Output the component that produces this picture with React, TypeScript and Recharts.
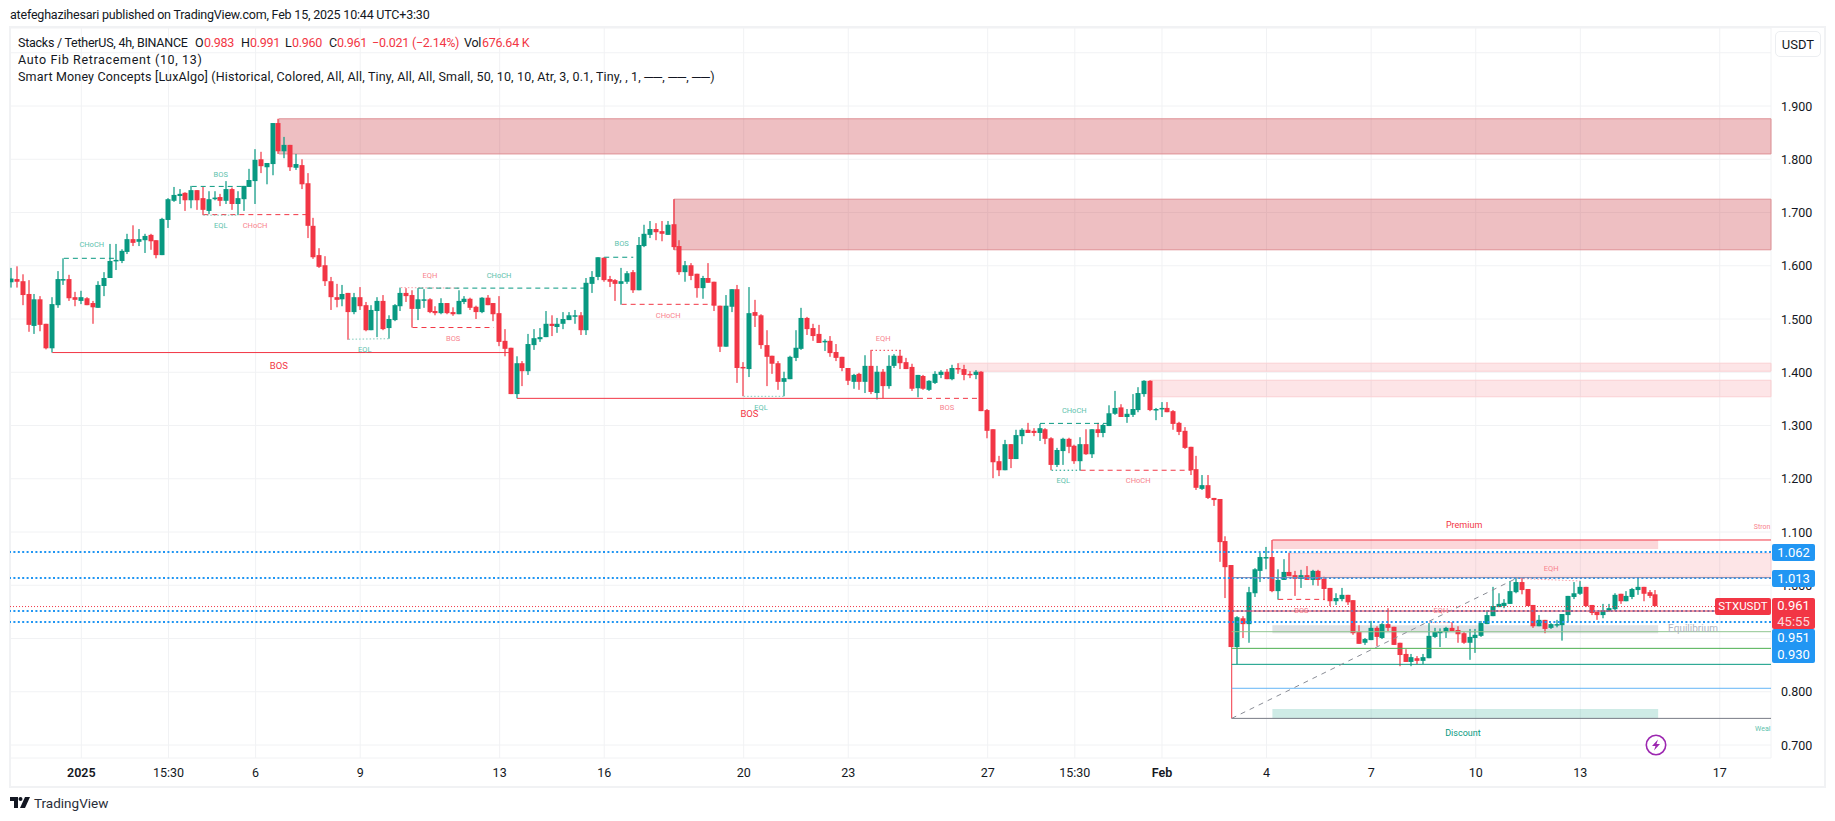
import React from 'react';
import { ComposedChart, Bar, XAxis, YAxis, CartesianGrid, ReferenceArea, ReferenceLine, ReferenceDot } from 'recharts';

const GREEN = '#089981';
const RED = '#F23645';
const BLUE = '#2196F3';

const opens = [
  1.569,1.575,1.571,1.547,1.487,1.537,1.491,1.445,1.526,1.573,
  1.575,1.541,1.534,1.539,1.530,1.521,1.562,1.577,1.609,1.609,
  1.626,1.650,1.645,1.648,1.658,1.648,1.620,1.686,1.722,1.731,
  1.737,1.723,1.742,1.727,1.703,1.725,1.729,1.722,1.744,1.716,
  1.725,1.748,1.759,1.800,1.785,1.791,1.868,1.815,1.827,1.784,
  1.789,1.755,1.675,1.620,1.601,1.571,1.541,1.537,1.549,1.513,
  1.541,1.526,1.479,1.515,1.534,1.483,1.498,1.524,1.549,1.545,
  1.519,1.536,1.537,1.515,1.511,1.530,1.513,1.509,1.532,1.538,
  1.523,1.513,1.540,1.530,1.511,1.459,1.446,1.359,1.417,1.402,
  1.451,1.462,1.466,1.491,1.485,1.491,1.498,1.506,1.507,1.479,
  1.566,1.579,1.615,1.575,1.573,1.566,1.570,1.588,1.554,1.637,
  1.658,1.669,1.665,1.658,1.678,1.637,1.588,1.601,1.585,1.558,
  1.577,1.570,1.525,1.448,1.523,1.556,1.410,1.406,1.513,1.507,
  1.451,1.431,1.417,1.382,1.387,1.427,1.444,1.502,1.483,1.472,
  1.457,1.459,1.438,1.429,1.408,1.382,1.397,1.382,1.412,1.361,
  1.401,1.374,1.412,1.431,1.419,1.410,1.370,1.393,1.367,1.380,
  1.395,1.401,1.387,1.408,1.406,1.397,1.395,1.401,1.329,1.293,
  1.233,1.216,1.265,1.237,1.280,1.292,1.290,1.286,1.293,1.276,
  1.226,1.252,1.275,1.262,1.233,1.265,1.246,1.293,1.286,1.299,
  1.322,1.334,1.316,1.320,1.329,1.359,1.384,1.329,1.331,1.333,
  1.327,1.305,1.290,1.260,1.218,1.181,1.188,1.164,1.162,1.083,
  1.038,0.884,0.938,0.927,0.985,1.027,1.051,1.053,0.989,1.010,
  1.025,1.019,1.012,1.019,1.010,1.027,1.012,0.995,0.970,0.974,
  0.982,0.972,0.912,0.892,0.897,0.920,0.901,0.927,0.922,0.892,
  0.871,0.856,0.863,0.858,0.863,0.903,0.910,0.912,0.920,0.916,
  0.910,0.892,0.901,0.905,0.927,0.942,0.959,0.961,0.965,0.987,
  1.006,0.993,0.963,0.923,0.935,0.920,0.925,0.925,0.944,0.978,
  0.984,0.997,0.963,0.950,0.944,0.952,0.955,0.984,0.970,0.978,
  0.991,0.997,0.987,0.983,
];

const highs = [
  1.596,1.599,1.584,1.573,1.547,1.543,1.491,1.541,1.590,1.614,
  1.583,1.551,1.553,1.541,1.534,1.571,1.588,1.641,1.641,1.631,
  1.660,1.676,1.669,1.660,1.660,1.648,1.690,1.727,1.748,1.744,
  1.738,1.750,1.742,1.748,1.740,1.740,1.735,1.759,1.747,1.740,
  1.750,1.782,1.819,1.814,1.793,1.868,1.876,1.842,1.827,1.810,
  1.800,1.774,1.690,1.633,1.618,1.579,1.566,1.564,1.549,1.549,
  1.560,1.532,1.526,1.541,1.545,1.507,1.528,1.559,1.558,1.554,
  1.558,1.556,1.539,1.524,1.539,1.530,1.522,1.554,1.543,1.540,
  1.525,1.541,1.545,1.530,1.543,1.481,1.446,1.430,1.421,1.472,
  1.481,1.483,1.515,1.507,1.502,1.513,1.513,1.517,1.513,1.577,
  1.590,1.616,1.616,1.581,1.575,1.596,1.590,1.592,1.654,1.677,
  1.684,1.680,1.684,1.684,1.725,1.648,1.609,1.605,1.585,1.581,
  1.605,1.570,1.525,1.545,1.556,1.564,1.419,1.560,1.536,1.509,
  1.479,1.431,1.421,1.401,1.431,1.479,1.521,1.504,1.491,1.489,
  1.462,1.468,1.453,1.429,1.408,1.397,1.399,1.432,1.442,1.412,
  1.406,1.432,1.434,1.442,1.427,1.416,1.395,1.395,1.385,1.402,
  1.404,1.406,1.414,1.417,1.414,1.402,1.404,1.402,1.331,1.293,
  1.243,1.273,1.265,1.292,1.295,1.305,1.295,1.303,1.295,1.278,
  1.258,1.277,1.277,1.264,1.278,1.293,1.293,1.305,1.303,1.338,
  1.365,1.340,1.331,1.359,1.372,1.385,1.385,1.333,1.344,1.344,
  1.329,1.307,1.297,1.260,1.243,1.207,1.207,1.164,1.162,1.092,
  1.038,0.942,0.942,0.997,1.032,1.061,1.072,1.085,1.030,1.049,
  1.061,1.027,1.029,1.036,1.029,1.029,1.016,0.995,0.985,0.995,
  0.982,0.972,0.925,0.901,0.933,0.923,0.929,0.957,0.922,0.892,
  0.880,0.871,0.867,0.871,0.929,0.920,0.919,0.922,0.931,0.923,
  0.912,0.918,0.918,0.933,0.953,0.997,0.985,0.974,1.008,1.015,
  1.014,0.993,0.963,0.944,0.935,0.929,0.935,0.946,0.980,1.006,
  1.008,0.997,0.963,0.950,0.965,0.965,0.985,0.984,0.989,0.995,
  1.015,0.997,0.991,0.991,
];

const lows = [
  1.559,1.559,1.526,1.476,1.472,1.477,1.443,1.437,1.521,1.564,
  1.534,1.524,1.528,1.526,1.491,1.521,1.543,1.577,1.592,1.605,
  1.622,1.637,1.637,1.624,1.630,1.614,1.620,1.671,1.720,1.716,
  1.703,1.708,1.705,1.695,1.697,1.723,1.712,1.716,1.705,1.695,
  1.703,1.748,1.716,1.774,1.753,1.770,1.810,1.802,1.778,1.780,
  1.744,1.652,1.613,1.596,1.562,1.517,1.522,1.524,1.461,1.509,
  1.517,1.477,1.479,1.466,1.479,1.463,1.496,1.515,1.532,1.484,
  1.498,1.521,1.511,1.507,1.509,1.509,1.506,1.509,1.528,1.517,
  1.500,1.511,1.526,1.496,1.449,1.430,1.359,1.351,1.374,1.395,
  1.442,1.457,1.466,1.468,1.474,1.481,1.498,1.491,1.470,1.470,
  1.549,1.573,1.570,1.560,1.534,1.527,1.566,1.549,1.554,1.635,
  1.652,1.648,1.646,1.658,1.630,1.583,1.570,1.573,1.540,1.538,
  1.568,1.515,1.438,1.448,1.513,1.380,1.355,1.391,1.485,1.444,
  1.374,1.397,1.367,1.355,1.387,1.421,1.442,1.470,1.459,1.455,
  1.440,1.429,1.421,1.402,1.376,1.369,1.367,1.361,1.359,1.349,
  1.351,1.369,1.408,1.406,1.406,1.365,1.353,1.367,1.365,1.378,
  1.389,1.387,1.385,1.397,1.385,1.389,1.387,1.327,1.276,1.201,
  1.205,1.216,1.220,1.237,1.265,1.286,1.280,1.271,1.265,1.216,
  1.222,1.226,1.248,1.228,1.216,1.245,1.239,1.278,1.278,1.299,
  1.320,1.316,1.305,1.316,1.325,1.354,1.327,1.310,1.316,1.325,
  1.292,1.282,1.256,1.207,1.179,1.179,1.162,1.149,1.044,0.976,
  0.884,0.852,0.901,0.892,0.978,1.006,1.030,0.987,0.973,1.010,
  1.017,0.980,0.995,1.010,1.000,0.999,0.972,0.961,0.963,0.970,
  0.963,0.907,0.890,0.888,0.897,0.886,0.899,0.914,0.888,0.848,
  0.856,0.848,0.852,0.852,0.863,0.901,0.884,0.901,0.914,0.892,
  0.890,0.860,0.873,0.903,0.927,0.942,0.959,0.957,0.965,0.985,
  0.983,0.961,0.920,0.923,0.910,0.918,0.921,0.896,0.931,0.974,
  0.982,0.959,0.944,0.935,0.938,0.950,0.952,0.965,0.970,0.974,
  0.982,0.970,0.976,0.960,
];

const closes = [
  1.576,1.570,1.545,1.489,1.537,1.489,1.445,1.528,1.575,1.575,
  1.539,1.536,1.541,1.526,1.522,1.564,1.577,1.609,1.611,1.628,
  1.650,1.643,1.650,1.656,1.646,1.620,1.688,1.725,1.733,1.735,
  1.723,1.742,1.723,1.705,1.725,1.728,1.722,1.744,1.716,1.727,
  1.750,1.761,1.799,1.787,1.793,1.868,1.815,1.827,1.785,1.791,
  1.753,1.675,1.616,1.598,1.571,1.541,1.536,1.547,1.513,1.541,
  1.524,1.479,1.517,1.534,1.481,1.500,1.526,1.549,1.543,1.519,
  1.537,1.537,1.513,1.511,1.530,1.511,1.509,1.534,1.538,1.521,
  1.513,1.540,1.526,1.509,1.457,1.444,1.359,1.417,1.402,1.453,
  1.464,1.466,1.491,1.487,1.491,1.500,1.507,1.507,1.479,1.568,
  1.579,1.616,1.573,1.570,1.566,1.571,1.586,1.554,1.639,1.660,
  1.669,1.663,1.660,1.677,1.635,1.588,1.601,1.581,1.558,1.577,
  1.568,1.525,1.448,1.525,1.556,1.408,1.408,1.511,1.506,1.451,
  1.429,1.416,1.382,1.389,1.429,1.446,1.502,1.481,1.468,1.455,
  1.459,1.436,1.427,1.408,1.384,1.395,1.382,1.412,1.363,1.401,
  1.374,1.412,1.431,1.417,1.406,1.369,1.395,1.369,1.384,1.397,
  1.401,1.387,1.408,1.406,1.395,1.395,1.401,1.327,1.290,1.231,
  1.216,1.265,1.237,1.282,1.292,1.286,1.286,1.295,1.275,1.226,
  1.254,1.275,1.260,1.233,1.265,1.246,1.293,1.286,1.301,1.323,
  1.333,1.316,1.322,1.331,1.361,1.384,1.329,1.331,1.333,1.325,
  1.303,1.288,1.258,1.216,1.183,1.188,1.164,1.160,1.081,1.034,
  0.884,0.940,0.927,0.987,1.030,1.053,1.053,0.989,1.010,1.025,
  1.017,1.012,1.019,1.010,1.027,1.010,0.993,0.970,0.976,0.982,
  0.968,0.910,0.890,0.899,0.920,0.903,0.927,0.920,0.888,0.869,
  0.856,0.865,0.858,0.865,0.905,0.912,0.914,0.920,0.914,0.908,
  0.892,0.903,0.907,0.929,0.944,0.961,0.965,0.967,0.989,1.006,
  0.991,0.961,0.923,0.935,0.918,0.927,0.927,0.946,0.980,0.985,
  0.997,0.961,0.948,0.944,0.953,0.957,0.982,0.970,0.980,0.993,
  0.997,0.984,0.980,0.961,
];

// bar index / label pairs of the time axis
const timeTicks = [12, 27, 42, 60, 84, 102, 126, 144, 168, 183, 198, 216, 234, 252, 270, 294];
const timeLabels = ['2025', '15:30', '6', '9', '13', '16', '20', '23', '27', '15:30', 'Feb', '4', '7', '10', '13', '17'];
const priceTicks = [2.0, 1.9, 1.8, 1.7, 1.6, 1.5, 1.4, 1.3, 1.2, 1.1, 1.0, 0.9, 0.8, 0.7];

const LAST = 302.82;

// order blocks and fib zones: [from bar, to bar, top, bottom, fill, opacity, stroke]
const zones: [number, number, number, number, string, number, string][] = [
  [46, LAST, 1.876, 1.81, '#c62a34', 0.3, '#de9095'],
  [114, LAST, 1.725, 1.63, '#c62a34', 0.3, '#de9095'],
  [163, LAST, 1.417, 1.402, '#f23645', 0.13, '#fad0d3'],
  [196, LAST, 1.385, 1.354, '#f23645', 0.13, '#fad0d3'],
  [220, LAST, 1.06, 1.017, '#f23645', 0.13, '#fad0d3'],
  [217, 283.4, 1.085, 1.068, '#f23645', 0.2, 'none'],
  [217, 283.4, 0.925, 0.91, '#787b86', 0.22, 'none'],
  [217, 283.4, 0.7676, 0.75, '#089981', 0.2, 'none'],
];

// structure and fib lines: [x1, p1, x2, p2, colour, width, dash]
const segments: [number, number, number, number, string, number, string][] = [
  [7, 1.437, 86, 1.437, RED, 1, ''],
  [87, 1.351, 156, 1.351, RED, 1, ''],
  [156, 1.351, 167, 1.351, RED, 1, '5 4'],
  [9, 1.614, 18, 1.614, GREEN, 1, '5 4'],
  [31, 1.749, 40, 1.749, GREEN, 1, '5 4'],
  [33, 1.696, 51, 1.696, RED, 1, '5 4'],
  [33, 1.695, 39, 1.695, '#7fcbbb', 1, '1.5 2'],
  [58, 1.462, 65, 1.463, '#7fcbbb', 1, '1.5 2'],
  [67, 1.559, 77, 1.558, '#f9a0a8', 1, '1.5 2'],
  [70, 1.558, 99, 1.558, GREEN, 1, '5 4'],
  [69, 1.484, 83, 1.484, RED, 1, '5 4'],
  [102, 1.616, 107, 1.616, GREEN, 1, '5 4'],
  [105, 1.5276, 121, 1.5276, RED, 1, '5 4'],
  [126, 1.3548, 133, 1.3548, '#7fcbbb', 1, '1.5 2'],
  [148, 1.4412, 153, 1.4412, RED, 1, '1.5 2.5'],
  [177, 1.304, 189, 1.304, GREEN, 1, '5 4'],
  [179, 1.216, 184, 1.216, GREEN, 1, '1.5 2.5'],
  [184, 1.216, 203, 1.216, RED, 1, '5 4'],
  [218, 0.9735, 226, 0.9735, RED, 1, '5 4'],
  [244, 0.93, 248, 0.93, '#f9a0a8', 1, '1.5 2'],
  [259, 1.013, 270, 1.008, '#f9a0a8', 1, '1.5 2'],
  [210, 0.884, 210, 0.75, RED, 1, ''],
  [217, 1.085, LAST, 1.085, RED, 1, ''],
  [210, 1.0143, LAST, 1.0143, '#7a86b0', 1, ''],
  [210, 0.9516, LAST, 0.9516, RED, 1, ''],
  [210, 0.9128, LAST, 0.9128, '#8fc58f', 1, ''],
  [210, 0.8815, LAST, 0.8815, '#4caf50', 1, ''],
  [210, 0.8515, LAST, 0.8515, GREEN, 1, ''],
  [210, 0.8065, LAST, 0.8065, '#64b5f6', 1, ''],
  [210, 0.75, LAST, 0.75, '#787b86', 1, ''],
  [210, 0.75, 259, 1.013, '#8a8d96', 1, '5 5'],
  [-0.27, 0.96, LAST, 0.96, RED, 1, '1 2'],
];

const alertPrices = [1.0624, 1.0136, 0.9516, 0.931];

// indicator labels: [text, bar, price, colour, font size]
const labels: [string, number, number, string, number][] = [
  ['CHoCH', 13.8, 1.639, '#5cc2ad', 7.5],
  ['BOS', 36, 1.772, '#5cc2ad', 7.5],
  ['EQL', 36, 1.675, '#5cc2ad', 7.5],
  ['CHoCH', 41.9, 1.675, '#f8838d', 7.5],
  ['BOS', 46, 1.412, RED, 9.5],
  ['EQL', 60.8, 1.442, '#5cc2ad', 7.5],
  ['EQH', 72, 1.581, '#f8838d', 7.5],
  ['CHoCH', 83.9, 1.581, '#5cc2ad', 7.5],
  ['BOS', 76, 1.464, '#f8838d', 7.5],
  ['BOS', 105, 1.641, '#5cc2ad', 7.5],
  ['CHoCH', 113, 1.507, '#f8838d', 7.5],
  ['EQH', 150, 1.464, '#f8838d', 7.5],
  ['EQL', 129, 1.333, '#5cc2ad', 7.5],
  ['BOS', 127, 1.323, RED, 9.5],
  ['BOS', 161, 1.333, '#f8838d', 7.5],
  ['CHoCH', 182.9, 1.329, '#5cc2ad', 7.5],
  ['EQL', 181, 1.196, '#5cc2ad', 7.5],
  ['CHoCH', 193.9, 1.196, '#f8838d', 7.5],
  ['Premium', 250, 1.113, RED, 9],
  ['Stron', 301.3, 1.109, '#f8838d', 7],
  ['BOS', 222, 0.952, '#f8838d', 7.5],
  ['EQH', 246, 0.952, '#f8838d', 7.5],
  ['EQH', 265, 1.032, '#f8838d', 7.5],
  ['Equilibrium', 289.4, 0.918, '#b2b5be', 10],
  ['Discount', 249.8, 0.7225, GREEN, 9],
  ['Weal', 301.4, 0.73, '#5cc2ad', 7],
];

// first legend row: [left px, text, is value]
const legendRow: [number, string, boolean][] = [
  [18, 'Stacks / TetherUS, 4h, BINANCE', false],
  [195, 'O', false],
  [204, '0.983', true],
  [241, 'H', false],
  [250, '0.991', true],
  [285, 'L', false],
  [292, '0.960', true],
  [329, 'C', false],
  [337, '0.961', true],
  [372, '−0.021 (−2.14%)', true],
  [464, 'Vol', false],
  [482, '676.64 K', true],
];

const chartData = opens.map((open, i) => ({
  i,
  open,
  high: highs[i],
  low: lows[i],
  close: closes[i],
  range: [lows[i], highs[i]],
}));

const Candle = (props: any) => {
  const { x, y, width, height, payload } = props;
  const { open, high, low, close } = payload;
  const up = close >= open;
  const color = up ? GREEN : RED;
  const perUnit = height / (high - low);
  const bodyTop = y + (high - Math.max(open, close)) * perUnit;
  const bodyH = Math.max(Math.abs(open - close) * perUnit, 1.5);
  const cx = Math.round(x + width / 2);
  return (
    <g>
      <rect x={cx - 0.6} y={y} width={1.2} height={height} fill={color} />
      <rect x={cx - 2.5} y={bodyTop} width={5} height={bodyH} fill={color} />
    </g>
  );
};

const PriceTick = ({ y, payload }: any) =>
  payload.value === 2 ? null : (
    <text x={1781} y={y} dominantBaseline="central" fontSize={12.5} fill="#131722" fontFamily="Roboto">
      {payload.value.toFixed(3)}
    </text>
  );

const TimeTick = ({ x, payload }: any) => {
  const label = timeLabels[timeTicks.indexOf(payload.value)];
  const bold = label === '2025' || label === 'Feb';
  return (
    <text x={x} y={772} textAnchor="middle" dominantBaseline="central" fontSize={12.5} fontWeight={bold ? 600 : 400} fill="#131722" fontFamily="Roboto">
      {label}
    </text>
  );
};

const tag = (top: number, height: number, bg: string, left = 1772, width = 43): React.CSSProperties => ({
  position: 'absolute',
  left,
  top,
  width,
  height,
  background: bg,
  color: '#fff',
  borderRadius: 2,
  textAlign: 'center',
  fontSize: 13,
  lineHeight: `${height}px`,
});

export default function App() {
  return (
    <div style={{ position: 'absolute', left: 0, top: 0, width: 1835, height: 821, background: '#fff', overflow: 'hidden', fontFamily: 'Roboto', color: '#131722' }}>
      <div style={{ position: 'absolute', left: 9, top: 26, width: 1813, height: 758, border: '2px solid #f1f2f4' }} />
      <div style={{ position: 'absolute', left: 10, top: 7, fontSize: 12.5, letterSpacing: -0.2, lineHeight: '16px', whiteSpace: 'nowrap' }}>
        atefeghazihesari published on TradingView.com, Feb 15, 2025 10:44 UTC+3:30
      </div>

      <div style={{ position: 'absolute', left: 0, top: 0 }}>
        <ComposedChart width={1835} height={821} data={chartData} margin={{ top: 28, right: 0, left: 10, bottom: 35 }}>
          <CartesianGrid stroke="#f1f2f4" />
          <XAxis
            dataKey="i"
            type="number"
            domain={[-0.275, LAST]}
            allowDataOverflow
            ticks={timeTicks}
            interval={0}
            height={28}
            axisLine={false}
            tickLine={false}
            tick={<TimeTick />}
          />
          <YAxis
            orientation="right"
            domain={[0.6756, 2.0465]}
            allowDataOverflow
            ticks={priceTicks}
            interval={0}
            width={64}
            axisLine={false}
            tickLine={false}
            tick={<PriceTick />}
          />
          {zones.map(([x1, x2, y1, y2, fill, op, stroke], k) => (
            <ReferenceArea key={`z${k}`} x1={x1} x2={x2} y1={y1} y2={y2} fill={fill} fillOpacity={op} stroke={stroke} />
          ))}
          {alertPrices.map((p) => (
            <ReferenceLine key={`a${p}`} y={p} stroke={BLUE} strokeWidth={2} strokeDasharray="2 2.4" />
          ))}
          {segments.map(([x1, p1, x2, p2, color, w, dash], k) => (
            <ReferenceLine
              key={`s${k}`}
              segment={[{ x: x1, y: p1 }, { x: x2, y: p2 }]}
              stroke={color}
              strokeWidth={w}
              strokeDasharray={dash || undefined}
            />
          ))}
          <Bar dataKey="range" barSize={5} isAnimationActive={false} shape={<Candle />} />
          {labels.map(([text, i, p, color, size], k) => (
            <ReferenceDot
              key={`l${k}`}
              x={i}
              y={p}
              r={0}
              shape={(d: any) => (
                <text x={d.cx} y={d.cy} textAnchor="middle" dominantBaseline="central" fontSize={size} fill={color} fontFamily="Roboto">
                  {text}
                </text>
              )}
            />
          ))}
        </ComposedChart>
      </div>

      <div style={{ position: 'absolute', left: 0, top: 34, width: 700, height: 17, fontSize: 12.5, lineHeight: '17px', whiteSpace: 'nowrap' }}>
        {legendRow.map(([left, text, isValue]) => (
          <span key={left} style={{ position: 'absolute', left, letterSpacing: -0.25, color: isValue ? RED : '#131722' }}>{text}</span>
        ))}
      </div>
      <div style={{ position: 'absolute', left: 18, top: 51, fontSize: 12.5, letterSpacing: 0.65, lineHeight: '17px', whiteSpace: 'nowrap' }}>
        Auto Fib Retracement (10, 13)
      </div>
      <div style={{ position: 'absolute', left: 18, top: 68, fontSize: 12.5, letterSpacing: 0.17, lineHeight: '17px', whiteSpace: 'nowrap' }}>
        Smart Money Concepts [LuxAlgo] (Historical, Colored, All, All, Tiny, All, All, Small, 50, 10, 10, Atr, 3, 0.1, Tiny, , 1, ──, ──, ──)
      </div>

      <div style={{ position: 'absolute', left: 1775, top: 31, width: 44, height: 24, border: '1px solid #eceef1', borderRadius: 5, textAlign: 'center', fontSize: 13, lineHeight: '25px' }}>USDT</div>

      <div style={tag(544, 17, BLUE)}>1.062</div>
      <div style={tag(570, 17, BLUE)}>1.013</div>
      <div style={{ ...tag(629, 34, BLUE), lineHeight: '17px' }}>0.951<br />0.930</div>
      <div style={{ ...tag(598, 31, RED), lineHeight: '15.5px' }}>0.961<br /><span style={{ opacity: 0.8 }}>45:55</span></div>
      <div style={{ ...tag(598, 17, RED, 1715, 56), fontSize: 11.5 }}>STXUSDT</div>

      <svg style={{ position: 'absolute', left: 1644, top: 733 }} width={24} height={24}>
        <circle cx={12} cy={12} r={9.7} fill="#fff" stroke="#9c27b0" strokeWidth={1.6} />
        <path d="M14 6.5 L8 13 H11.5 L10 17.5 L16 11 H12.5 Z" fill="#9c27b0" />
      </svg>

      <svg style={{ position: 'absolute', left: 10, top: 797 }} width={20} height={12}>
        <path d="M0 0 H8 V11 H4 V4 H0 Z" fill="#131722" />
        <circle cx={10.5} cy={2} r={2} fill="#131722" />
        <path d="M15 0 H20 L15 11 H10 Z" fill="#131722" />
      </svg>
      <div style={{ position: 'absolute', left: 34, top: 795, fontSize: 13.5, lineHeight: '16px', color: '#2a2e39' }}>TradingView</div>
    </div>
  );
}
